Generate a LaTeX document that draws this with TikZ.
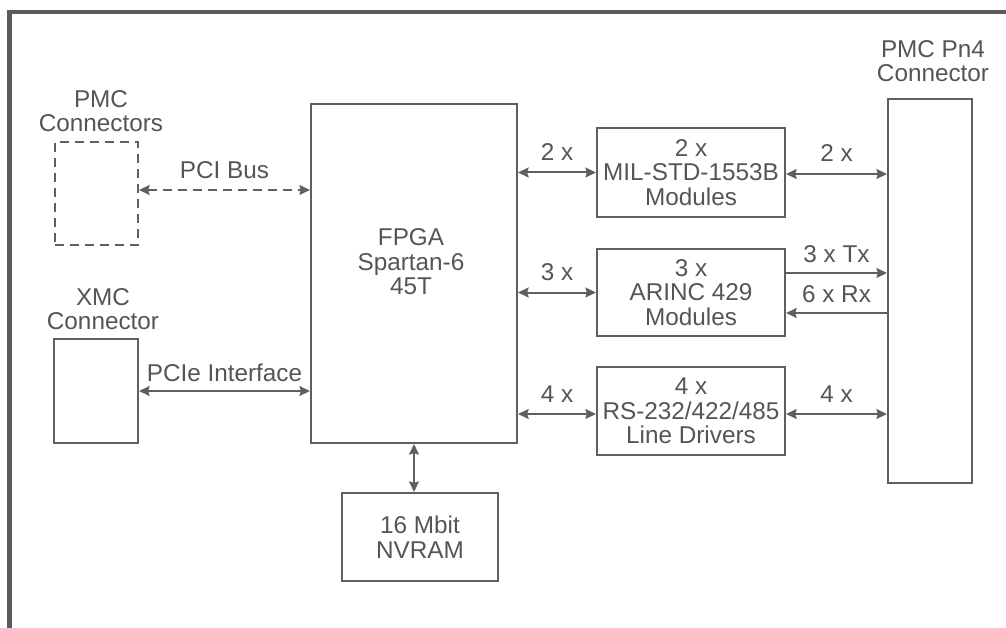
\documentclass[tikz,border=0pt]{standalone}
\usepackage{fontspec}
\setmainfont{Liberation Sans}
\usetikzlibrary{arrows.meta,calc}
\definecolor{ln}{HTML}{625E60}
\definecolor{tx}{HTML}{555555}
\definecolor{fr}{HTML}{5E595C}
\begin{document}
\begin{tikzpicture}[x=1pt,y=-1pt,
  box/.style={draw=ln, line width=2.2pt, text=tx, align=center, inner sep=0pt,
    font=\fontsize{24.3}{24.5}\selectfont},
  lbl/.style={text=tx, align=center, inner sep=0pt, font=\fontsize{24.3}{24.5}\selectfont},
  arr/.style={draw=ln, line width=2pt, {Stealth[length=10.5pt,width=10pt,inset=1.5pt]}-{Stealth[length=10.5pt,width=10pt,inset=1.5pt]}},
  rarr/.style={draw=ln, line width=2pt, -{Stealth[length=10.5pt,width=10pt,inset=1.5pt]}},
  dsh/.style={dash pattern=on 9pt off 6pt}]
\useasboundingbox (0,0) rectangle (1006,628);
% frame
\draw[fr, line width=4.5pt] (9.5,628) -- (9.5,12) -- (1006,12);
% boxes
\node[box, dsh, minimum width=83pt, minimum height=103pt] (pmc) at (96.5,193.5) {};
\node[box, minimum width=84pt, minimum height=104pt] (xmc) at (96,391) {};
\node[box, minimum width=206pt, minimum height=339pt] (fpga) at (414,273.5) {};
\node[box, minimum width=156pt, minimum height=88pt] (nvram) at (420,537) {16 Mbit\\NVRAM};
\node[box, minimum width=188pt, minimum height=89pt] (mil) at (691,172.5) {2 x\\MIL-STD-1553B\\Modules};
\node[box, minimum width=188pt, minimum height=87pt] (arinc) at (691,292.5) {3 x\\ARINC 429\\Modules};
\node[box, minimum width=188pt, minimum height=88pt] (rs) at (691,411) {4 x\\RS-232/422/485\\Line Drivers};
\node[box, minimum width=84pt, minimum height=384pt] (pn4) at (930,291) {};
% titles
\node[lbl] (fpgatext) at (411,262) {FPGA\\Spartan-6\\45T};
\node[lbl] (pmctext) at (101,111) {PMC\\Connectors};
\node[lbl] (xmctext) at (103,309) {XMC\\Connector};
\node[lbl] (pn4text) at (933,61) {PMC Pn4\\Connector};
% connectors
\draw[arr, dsh] ([yshift=3.5pt]pmc.east) -- ([yshift=3.5pt]pmc.east -| fpga.west)
  node[lbl, pos=0.5, anchor=base, yshift=11pt] (pcil) {PCI Bus};
\draw[arr] (xmc.east) -- (xmc.east -| fpga.west)
  node[lbl, pos=0.5, anchor=base, yshift=10pt] (pciel) {PCIe Interface};
\draw[arr] (fpga.south) -- (fpga.south |- nvram.north);
\draw[arr] (fpga.east |- mil.west) -- (mil.west)
  node[lbl, pos=0.5, anchor=base, yshift=12pt] (l1) {2 x};
\draw[arr] (fpga.east |- arinc.west) -- (arinc.west)
  node[lbl, pos=0.5, anchor=base, yshift=12pt] (l2) {3 x};
\draw[arr] ([yshift=-3pt]fpga.east |- rs.west) -- ([yshift=-3pt]rs.west)
  node[lbl, pos=0.5, anchor=base, yshift=12pt] (l3) {4 x};
\draw[arr] ([yshift=-1.5pt]mil.east) -- ([yshift=-1.5pt]mil.east -| pn4.west)
  node[lbl, pos=0.5, anchor=base, yshift=12pt] (r1) {2 x};
\draw[rarr] ([yshift=19.5pt]arinc.east) -- ([yshift=19.5pt]arinc.east -| pn4.west)
  node[lbl, pos=0.5, anchor=base, yshift=11pt] (r2) {3 x Tx};
\draw[rarr] ([yshift=-20.5pt]arinc.east -| pn4.west) -- ([yshift=-20.5pt]arinc.east)
  node[lbl, pos=0.5, anchor=base, yshift=11pt] (r3) {6 x Rx};
\draw[arr] ([yshift=-3pt]rs.east) -- ([yshift=-3pt]rs.east -| pn4.west)
  node[lbl, pos=0.5, anchor=base, yshift=12pt] (r4) {4 x};
\end{tikzpicture}
\end{document}
